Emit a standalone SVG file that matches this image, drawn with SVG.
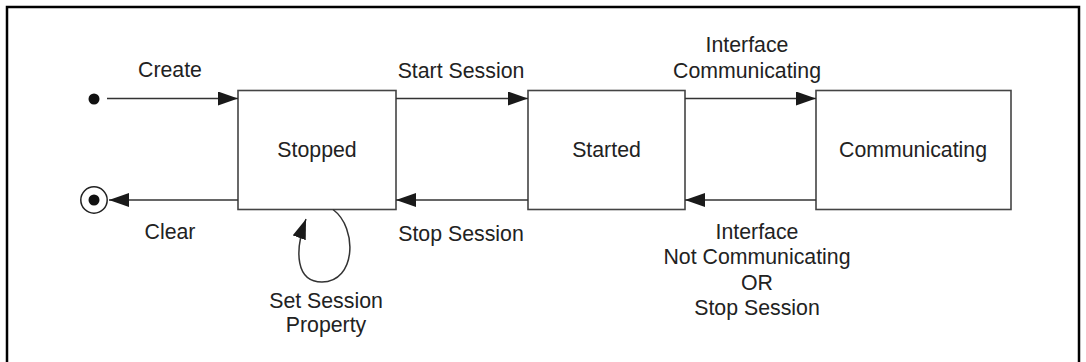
<svg xmlns="http://www.w3.org/2000/svg" width="1086" height="362" viewBox="0 0 1086 362">
<style>
.frame{fill:none;stroke:#000;stroke-width:2.5}
.box{fill:#fff;stroke:#444;stroke-width:1.6}
.line{fill:none;stroke:#333;stroke-width:1.5}
text{font-family:"Liberation Sans",Arial,Helvetica,sans-serif;font-size:21.3px;fill:#222;text-anchor:middle}
</style>
<defs>
<marker id="ah" markerWidth="20" markerHeight="14" refX="20" refY="7" orient="auto" markerUnits="userSpaceOnUse">
<path d="M0,0 L20,7 L0,14 Z" fill="#1a1a1a"/>
</marker>
</defs>
<rect class="frame" x="7" y="7" width="1072" height="370"/>
<g id="initial"><circle cx="94" cy="99" r="5.5" fill="#111"/></g>
<g id="final"><circle cx="94" cy="200" r="13.2" fill="#fff" stroke="#222" stroke-width="1.5"/><circle cx="94" cy="200" r="5.5" fill="#111"/></g>
<g id="stopped"><rect class="box" x="238" y="90.5" width="158" height="119"/><text x="317" y="157">Stopped</text></g>
<g id="started"><rect class="box" x="528" y="90.5" width="157" height="119"/><text x="606.5" y="157">Started</text></g>
<g id="communicating"><rect class="box" x="816" y="90.5" width="195" height="119"/><text x="913" y="157">Communicating</text></g>
<g id="connectors">
<line class="line" x1="107" y1="98.5" x2="238" y2="98.5" marker-end="url(#ah)"/>
<line class="line" x1="396" y1="98.5" x2="528" y2="98.5" marker-end="url(#ah)"/>
<line class="line" x1="685" y1="98.5" x2="816" y2="98.5" marker-end="url(#ah)"/>
<line class="line" x1="528" y1="200" x2="396" y2="200" marker-end="url(#ah)"/>
<line class="line" x1="816" y1="200" x2="685" y2="200" marker-end="url(#ah)"/>
<line class="line" x1="238" y1="200" x2="109" y2="200" marker-end="url(#ah)"/>
<path class="line" d="M333,209.5 C358,228 356,282 322,282 C296,282 294,252 306,219" marker-end="url(#ah)"/>
</g>
<g id="labels">
<text x="170" y="77">Create</text>
<text x="170" y="239">Clear</text>
<text x="461" y="77.5">Start Session</text>
<text x="461" y="240.5">Stop Session</text>
<text x="747" y="52">Interface</text>
<text x="747" y="78">Communicating</text>
<text x="757" y="239">Interface</text>
<text x="757" y="264">Not Communicating</text>
<text x="757" y="289.5">OR</text>
<text x="757" y="315">Stop Session</text>
<text x="326" y="308">Set Session</text>
<text x="326" y="332">Property</text>
</g>
</svg>
